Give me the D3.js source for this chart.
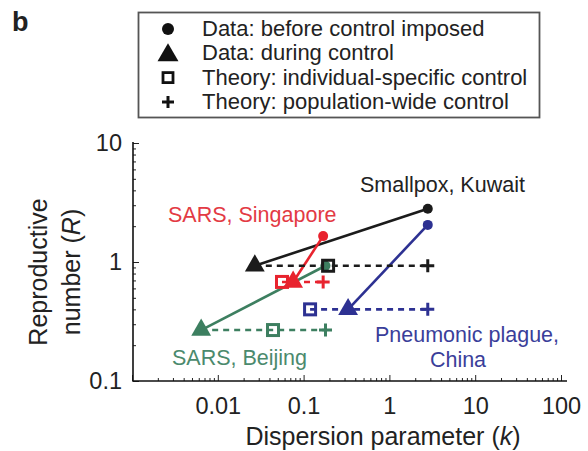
<!DOCTYPE html>
<html>
<head>
<meta charset="utf-8">
<script src="https://cdn.jsdelivr.net/npm/d3@7"></script>
<style>
  html, body { margin: 0; padding: 0; background: #fff; }
  svg { display: block; }
  text { font-family: "Liberation Sans", Arial, Helvetica, sans-serif; fill: #222; }
</style>
</head>
<body>
<svg id="chart" width="588" height="451"></svg>
<script>
// ---------- data ----------
const diseases    = ["Smallpox, Kuwait", "SARS, Singapore", "SARS, Beijing", "Pneumonic plague, China"];
const colors      = ["#1b1b1b", "#e8232e", "#3d7f60", "#2d3192"];
const labelColors = ["#222222", "#e33a44", "#4b8a6d", "#3a3e9a"];
const kBefore     = [2.8, 0.169, 0.18, 2.8];     // circles
const rBefore     = [2.8, 1.65, 0.93, 2.05];
const kDuring     = [0.027, 0.0755, 0.0064, 0.33]; // triangles
const rDuring     = [0.93, 0.68, 0.268, 0.40];
const kIndividual = [0.193, 0.056, 0.044, 0.119];  // squares (at rDuring)
const kPopulation = [2.8, 0.169, 0.18, 2.8];       // plus (at rDuring)
const legendLabels = ["Data: before control imposed", "Data: during control",
                      "Theory: individual-specific control", "Theory: population-wide control"];
const xTicks = [0.001, 0.01, 0.1, 1, 10, 100];
const xTickLabels = ["", "0.01", "0.1", "1", "10", "100"];
const yTicks = [0.1, 1, 10];
const yTickLabels = ["0.1", "1", "10"];

// ---------- layout ----------
const svg = d3.select("#chart");
const x = d3.scaleLog().domain([0.001, 100]).range([132, 561]);
const y = d3.scaleLog().domain([0.1, 10]).range([381, 143]);

function minorValues(domain) {
  const out = [];
  for (let e = Math.round(Math.log10(domain[0])); e < Math.round(Math.log10(domain[1])); e++) {
    for (let m = 2; m <= 9; m++) out.push(m * Math.pow(10, e));
  }
  return out;
}

// axes
const gx = svg.append("g").attr("transform", `translate(0,${y.range()[0]})`);
gx.call(d3.axisBottom(x).tickValues(minorValues(x.domain())).tickSize(-3).tickFormat(""));
gx.call(g => g.selectAll(".domain").remove());
const gxMajor = svg.append("g").attr("transform", `translate(0,${y.range()[0]})`);
gxMajor.call(d3.axisBottom(x).tickValues(xTicks).tickSize(-6).tickSizeOuter(0).tickPadding(16)
  .tickFormat((d, i) => xTickLabels[i]));
gxMajor.select(".domain").remove();
gxMajor.selectAll("text").attr("font-size", 23.5).attr("fill", "#222")
  .attr("font-family", "Liberation Sans, Arial, sans-serif");

const gy = svg.append("g").attr("transform", `translate(${x.range()[0] + 1},0)`);
gy.call(d3.axisLeft(y).tickValues(minorValues(y.domain())).tickSize(-3).tickFormat(""));
gy.call(g => g.selectAll(".domain").remove());
const gyMajor = svg.append("g").attr("transform", `translate(${x.range()[0] + 1},0)`);
gyMajor.call(d3.axisLeft(y).tickValues(yTicks).tickSize(-6).tickSizeOuter(0).tickPadding(11)
  .tickFormat((d, i) => yTickLabels[i]));
gyMajor.select(".domain").remove();
gyMajor.selectAll("text").attr("font-size", 23.5).attr("fill", "#222")
  .attr("font-family", "Liberation Sans, Arial, sans-serif");
svg.selectAll(".tick line").attr("stroke", "#222").attr("stroke-width", 1);

// axis lines
svg.append("path")
  .attr("d", `M${x.range()[0] + 1},${y.range()[1] - 1}V${y.range()[0]}H${x.range()[1] + 6}`)
  .attr("fill", "none").attr("stroke", "#111").attr("stroke-width", 1.6);

// axis titles
const xt = svg.append("text").attr("x", 383).attr("y", 445).attr("text-anchor", "middle")
  .attr("font-size", 25);
xt.append("tspan").text("Dispersion parameter (");
xt.append("tspan").attr("font-style", "italic").text("k");
xt.append("tspan").text(")");

const yt = svg.append("g").attr("transform", "translate(47,272) rotate(-90)");
yt.append("text").attr("text-anchor", "middle").attr("font-size", 25).text("Reproductive");
const yt2 = yt.append("text").attr("text-anchor", "middle").attr("y", 33).attr("font-size", 25);
yt2.append("tspan").text("number (");
yt2.append("tspan").attr("font-style", "italic").text("R");
yt2.append("tspan").text(")");

// panel letter
svg.append("text").attr("x", 12).attr("y", 31).attr("font-size", 27).attr("font-weight", "bold")
  .attr("fill", "#111").text("b");

// ---------- marks ----------
const idx = d3.range(diseases.length);
const plot = svg.append("g");

// solid lines: before -> during
plot.selectAll("line.solid").data(idx).join("line")
  .attr("class", "solid")
  .attr("x1", i => x(kBefore[i])).attr("y1", i => y(rBefore[i]))
  .attr("x2", i => x(kDuring[i])).attr("y2", i => y(rDuring[i]))
  .attr("stroke", i => colors[i]).attr("stroke-width", 2.6);

// dashed lines at rDuring spanning triangle, square, plus
plot.selectAll("line.dash").data(idx).join("line")
  .attr("class", "dash")
  .attr("x1", i => x(Math.min(kDuring[i], kIndividual[i]))).attr("y1", i => y(rDuring[i]))
  .attr("x2", i => x(kPopulation[i])).attr("y2", i => y(rDuring[i]))
  .attr("stroke", i => colors[i]).attr("stroke-width", 2.6).attr("stroke-dasharray", "6,5");

// circles
plot.selectAll("circle.before").data(idx).join("circle")
  .attr("class", "before")
  .attr("cx", i => x(kBefore[i])).attr("cy", i => y(rBefore[i])).attr("r", 5)
  .attr("fill", i => colors[i]);

// squares (hollow)
plot.selectAll("rect.ind").data(idx).join("rect")
  .attr("class", "ind")
  .attr("x", i => x(kIndividual[i]) - 5.5).attr("y", i => y(rDuring[i]) - 5.5)
  .attr("width", 11).attr("height", 11)
  .attr("fill", "none").attr("stroke", i => colors[i]).attr("stroke-width", 3);

// plus
const plusPath = d3.symbol().type(d3.symbolCross);
plot.selectAll("path.pop").data(idx).join("path")
  .attr("class", "pop")
  .attr("transform", i => `translate(${x(kPopulation[i])},${y(rDuring[i])})`)
  .attr("d", "M-6.5,0H6.5M0,-6.5V6.5")
  .attr("stroke", i => colors[i]).attr("stroke-width", 3).attr("fill", "none");

// triangles
const tri = d3.symbol().type(d3.symbolTriangle).size(170);
plot.selectAll("path.during").data(idx).join("path")
  .attr("class", "during")
  .attr("transform", i => `translate(${x(kDuring[i])},${y(rDuring[i])})`)
  .attr("d", tri())
  .attr("fill", i => colors[i]);

// ---------- annotations ----------
const ann = [
  { i: 0, lines: ["Smallpox, Kuwait"], x: 360, y: 192, anchor: "start" },
  { i: 1, lines: ["SARS, Singapore"], x: 168, y: 222, anchor: "start" },
  { i: 2, lines: ["SARS, Beijing"], x: 172, y: 365, anchor: "start" },
  { i: 3, lines: ["Pneumonic plague,", "China"], x: 467, y: 342, anchor: "middle" }
];
ann.forEach(a => {
  a.lines.forEach((t, j) => {
    svg.append("text").attr("x", a.x - (j > 0 ? 9 : 0)).attr("y", a.y + j * 25)
      .attr("text-anchor", a.anchor).attr("font-size", 21.5)
      .style("fill", labelColors[a.i]).text(t);
  });
});

// ---------- legend ----------
const lg = svg.append("g");
lg.append("rect").attr("x", 138.5).attr("y", 12.5).attr("width", 401).attr("height", 105)
  .attr("fill", "#fff").attr("stroke", "#555").attr("stroke-width", 1.8);
const rowY = i => 36 + i * 24.3;
const mx = 168;
lg.append("circle").attr("cx", mx).attr("cy", rowY(0) - 7).attr("r", 6).attr("fill", "#111");
lg.append("path").attr("transform", `translate(${mx},${rowY(1) - 5})`)
  .attr("d", d3.symbol().type(d3.symbolTriangle).size(190)()).attr("fill", "#111");
lg.append("rect").attr("x", mx - 5).attr("y", rowY(2) - 12).attr("width", 10).attr("height", 10)
  .attr("fill", "none").attr("stroke", "#111").attr("stroke-width", 2.8);
lg.append("path").attr("transform", `translate(${mx},${rowY(3) - 7})`)
  .attr("d", "M-6,0H6M0,-6V6").attr("stroke", "#111").attr("stroke-width", 3);
legendLabels.forEach((t, i) => {
  lg.append("text").attr("x", 202).attr("y", rowY(i)).attr("font-size", 22).text(t);
});
</script>
</body>
</html>
